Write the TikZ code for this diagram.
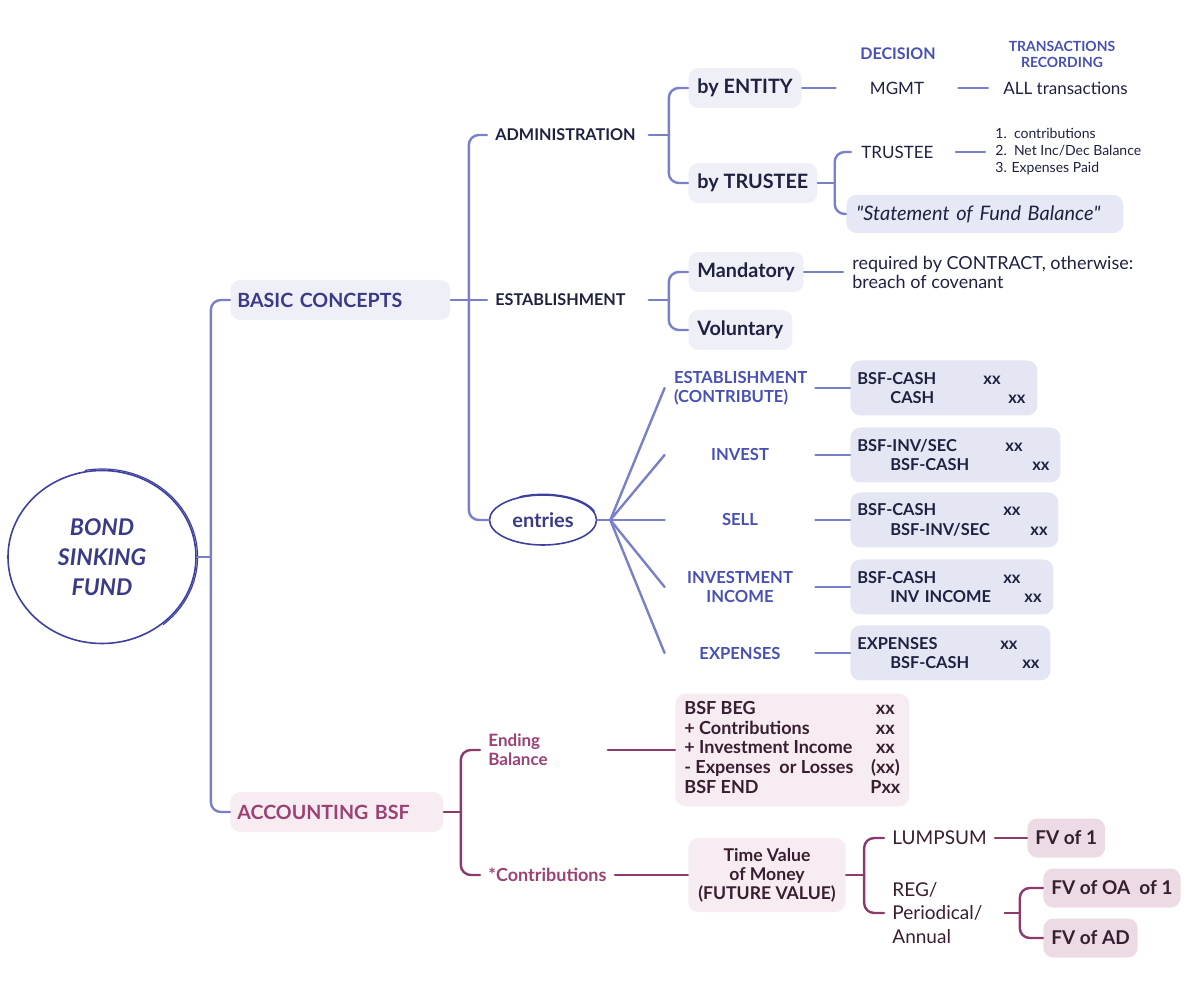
\documentclass[tikz,border=0pt]{standalone}
\usepackage{fontspec}
\setmainfont{Lato}
\usetikzlibrary{shapes.geometric}
\definecolor{bline}{RGB}{122,128,200}
\definecolor{rline}{RGB}{62,64,160}
\definecolor{tblue}{RGB}{58,58,135}
\definecolor{eblue}{RGB}{72,80,180}
\definecolor{navy}{RGB}{30,33,64}
\definecolor{bfill}{RGB}{239,240,247}
\definecolor{jfill}{RGB}{228,231,243}
\definecolor{sfill}{RGB}{230,233,245}
\definecolor{mline}{RGB}{140,58,108}
\definecolor{mtext}{RGB}{155,65,115}
\definecolor{pfill}{RGB}{246,236,241}
\definecolor{fvfill}{RGB}{236,218,228}
\definecolor{ptext}{RGB}{55,30,48}

\begin{document}
\begin{tikzpicture}[line cap=round,line join=round,x=0.5pt,y=-0.5pt,
 bl/.style={draw=bline,line width=1.2pt},
 tree/.style={bl,rounded corners=5pt},
 ml/.style={draw=mline,line width=1.2pt},
 mtree/.style={ml,rounded corners=5pt},
 big/.style={fill=bfill,rounded corners=5pt,text=tblue,font=\fontsize{9.8}{11}\selectfont\bfseries,inner xsep=3.5pt,minimum height=20pt,align=left},
 lvl/.style={text=navy,font=\fontsize{8.1}{9}\selectfont\bfseries,inner xsep=4pt,text width=72.5pt,align=left},
 sub/.style={fill=bfill,rounded corners=5pt,text=navy,font=\fontsize{9.9}{11}\selectfont\bfseries,inner xsep=4.5pt,minimum height=20pt},
 note/.style={text=navy,font=\fontsize{8.5}{9.5}\selectfont,align=left},
 head/.style={text=eblue,font=\fontsize{7}{8}\selectfont\bfseries,align=center},
 elbl/.style={text=eblue,font=\fontsize{8.3}{9.75}\selectfont\bfseries,inner xsep=4.5pt,text width=66pt,align=center},
 jbox/.style={fill=jfill,rounded corners=5pt,text=navy,font=\fontsize{8.2}{9.75}\selectfont\bfseries,inner xsep=3.5pt,minimum height=27.5pt,align=left},
 mtxt/.style={text=mtext,font=\fontsize{8.5}{9.5}\selectfont\bfseries,inner xsep=4pt,align=left},
 pbox/.style={fill=pfill,rounded corners=5pt,text=ptext,font=\fontsize{9}{9.9}\selectfont\bfseries},
 fvbox/.style={fill=fvfill,rounded corners=5pt,text=ptext,font=\fontsize{9.5}{11}\selectfont\bfseries,inner xsep=4pt,minimum height=19.5pt},
 ptxt/.style={text=ptext,font=\fontsize{9.5}{11.75}\selectfont,inner xsep=4pt,align=left}]
\useasboundingbox (0,0) rectangle (1200,988);

\node [ellipse,draw=rline,line width=0.8pt,minimum width=94pt,minimum height=86.5pt,text=tblue,align=center,font=\fontsize{11.5}{15}\selectfont\bfseries\itshape] (root) at (102,557) {BOND\\SINKING\\FUND};
\draw [rline,line width=0.6pt] ([shift={(100:47.8pt and 44pt)}]root.center) arc[start angle=100,end angle=-50,x radius=47.8pt,y radius=44pt];

\node [big,text width=103pt,anchor=west] (basic) at (230,300) {BASIC CONCEPTS};
\node [big,fill=pfill,text=mtext,text width=99.5pt,anchor=west] (acc) at (230,812) {ACCOUNTING BSF};
\draw [bl] (root.east) -- ++(14,0) coordinate (j0);
\draw [tree] (j0) |- (basic.west);
\draw [tree] (j0) |- (acc.west);

\node [lvl,anchor=west] (adm) at (487,135) {ADMINISTRATION};
\node [lvl,anchor=west] (est) at (487,300) {ESTABLISHMENT};
\node [ellipse,draw=rline,line width=0.8pt,minimum width=53.5pt,minimum height=25pt,text=tblue,font=\fontsize{10}{11}\selectfont\bfseries] (ent) at (543,520) {entries};
\draw [rline,line width=0.6pt] ([shift={(115:27.4pt and 12.9pt)}]ent.center) arc[start angle=115,end angle=20,x radius=27.4pt,y radius=12.9pt];
\draw [bl] (basic.east) -- ++(18,0) coordinate (j1);
\draw [tree] (j1) |- (adm.west);
\draw [bl] (j1) -- (est.west);
\draw [tree] (j1) |- (ent.west);

\node [head,font=\fontsize{8}{9}\selectfont\bfseries] (dec) at (898,54) {DECISION};
\node [head] (rec) at (1062,54) {TRANSACTIONS\\RECORDING};
\node [sub,anchor=west] (byent) at (688,88) {by ENTITY};
\node [sub,anchor=west] (bytr) at (688,183) {by TRUSTEE};
\draw [bl] (adm.east) -- ++(20,0) coordinate (j2);
\draw [tree] (j2) |- (byent.west);
\draw [tree] (j2) |- (bytr.west);
\node [note,inner xsep=17pt] (mgmt) at (897,88) {MGMT};
\node [note,inner xsep=7.5pt,anchor=west] (all) at (988,88) {ALL transactions};
\draw [bl] (byent.east) -- (mgmt.west);
\draw [bl] (mgmt.east) -- (all.west);
\node [note,inner xsep=5pt,anchor=west] (trustee) at (851,152) {TRUSTEE};
\node [note,font=\fontsize{7}{8.5}\selectfont,inner xsep=5pt,anchor=west] (list) at (985,152) {1.\ \ contributions\\2.\ \ Net Inc/Dec Balance\\3. Expenses Paid};
\node [sub,fill=sfill,font=\fontsize{10}{11}\selectfont\itshape,inner xsep=5pt,minimum height=19pt,text width=128.5pt,align=left,anchor=west] (stmt) at (846,214) {\textquotedbl Statement of Fund Balance\textquotedbl};
\draw [bl] (bytr.east) -- ++(17,0) coordinate (j3);
\draw [tree] (j3) |- (trustee.west);
\draw [tree] (j3) |- (stmt.west);
\draw [bl] ([xshift=6pt]trustee.east) -- (list.west);

\node [sub,anchor=west] (mand) at (688,272) {Mandatory};
\node [sub,anchor=west] (vol) at (688,330) {Voluntary};
\draw [bl] (est.east) -- ++(20,0) coordinate (j4);
\draw [tree] (j4) |- (mand.west);
\draw [tree] (j4) |- (vol.west);
\node [note,font=\fontsize{9}{9.5}\selectfont,inner xsep=4.5pt,anchor=west] (req) at (843,272) {required by CONTRACT, otherwise:\\breach of covenant};
\draw [bl] (mand.east) -- (req.west);

\node [elbl,align=left] (e1) at (740,388) {ESTABLISHMENT\\(CONTRIBUTE)};
\node [elbl] (e2) at (740,455) {INVEST};
\node [elbl] (e3) at (740,520) {SELL};
\node [elbl] (e4) at (740,587) {INVESTMENT\\INCOME};
\node [elbl] (e5) at (740,653) {EXPENSES};
\node [jbox,text width=86.5pt,anchor=west] (j1) at (850,388) {\makebox[63pt][l]{BSF-CASH}xx\\\hspace*{16.5pt}\makebox[59pt][l]{CASH}xx};
\node [jbox,text width=98pt,anchor=west] (j2) at (850,455) {\makebox[74pt][l]{BSF-INV/SEC}xx\\\hspace*{16.5pt}\makebox[71pt][l]{BSF-CASH}xx};
\node [jbox,text width=97pt,anchor=west] (j3) at (850,520) {\makebox[73pt][l]{BSF-CASH}xx\\\hspace*{16.5pt}\makebox[70pt][l]{BSF-INV/SEC}xx};
\node [jbox,text width=94.5pt,anchor=west] (j4) at (850,587) {\makebox[73pt][l]{BSF-CASH}xx\\\hspace*{16.5pt}\makebox[67pt][l]{INV INCOME}xx};
\node [jbox,text width=93pt,anchor=west] (j5) at (850,653) {\makebox[71.5pt][l]{EXPENSES}xx\\\hspace*{16.5pt}\makebox[66pt][l]{BSF-CASH}xx};
\draw [bl] (ent.east) -- ++(13,0) coordinate (fan);
\foreach \i in {1,...,5} {
  \draw [bl] (fan) -- (e\i.west);
  \draw [bl] (e\i.east) -- (j\i.west);
}

\node [mtxt,text width=55.5pt,anchor=west] (endb) at (480,750) {Ending\\Balance};
\node [mtxt,font=\fontsize{9}{9.5}\selectfont\bfseries,anchor=west] (contr) at (480,875) {*Contributions};
\draw [ml] (acc.east) -- ++(17,0) coordinate (j5);
\draw [mtree] (j5) |- (endb.west);
\draw [mtree] (j5) |- (contr.west);
\node [pbox,inner xsep=4.5pt,anchor=west] (bal) at (675,750) {\begin{tabular}{@{}p{93pt}@{}c@{}}BSF BEG & xx\\+ Contributions & xx\\+ Investment Income & xx\\- Expenses\ \ or Losses & (xx)\\BSF END & Pxx\end{tabular}};
\draw [ml] (endb.east) -- (bal.west);
\node [pbox,inner xsep=5pt,minimum height=37pt,align=center,font=\fontsize{8.8}{9.5}\selectfont\bfseries] (tvm) at (767,875) {Time Value\\of Money\\(FUTURE VALUE)};
\draw [ml] (contr.east) -- (tvm.west);
\node [ptxt,anchor=west] (lump) at (884,838) {LUMPSUM};
\node [ptxt,anchor=west] (reg) at (884,913) {REG/\\Periodical/\\Annual};
\draw [ml] (tvm.east) -- ++(18,0) coordinate (j6);
\draw [mtree] (j6) |- (lump.west);
\draw [mtree] (j6) |- (reg.west);
\node [fvbox,anchor=west] (fv1) at (1027,838) {FV of 1};
\node [fvbox,anchor=west] (fvoa) at (1043,888) {FV of OA\ \ of 1};
\node [fvbox,anchor=west] (fvad) at (1043,938) {FV of AD};
\draw [ml] (lump.east) -- (fv1.west);
\draw [ml] ([xshift=7pt]reg.east) -- ++(15,0) coordinate (j7);
\draw [mtree] (j7) |- (fvoa.west);
\draw [mtree] (j7) |- (fvad.west);
\end{tikzpicture}
\end{document}
